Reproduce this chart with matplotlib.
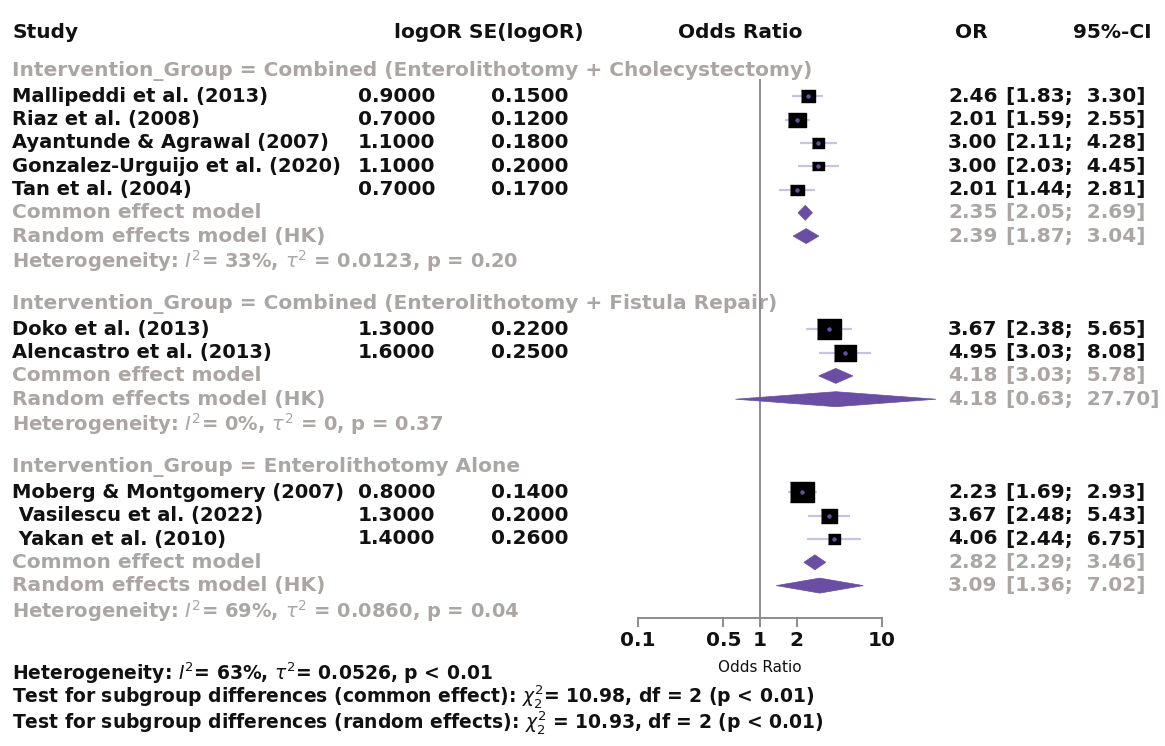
import numpy as np
import matplotlib
matplotlib.use('Agg')
import matplotlib.pyplot as plt
from matplotlib.patches import Polygon

# ---- data ----
group_labels = ['Intervention_Group = Combined (Enterolithotomy + Cholecystectomy)',
                'Intervention_Group = Combined (Enterolithotomy + Fistula Repair)',
                'Intervention_Group = Enterolithotomy Alone']

studies = [['Mallipeddi et al. (2013)', 'Riaz et al. (2008)', 'Ayantunde & Agrawal (2007)',
            'Gonzalez-Urguijo et al. (2020)', 'Tan et al. (2004)'],
           ['Doko et al. (2013)', 'Alencastro et al. (2013)'],
           ['Moberg & Montgomery (2007)', ' Vasilescu et al. (2022)', ' Yakan et al. (2010)']]
log_or = [[0.90, 0.70, 1.10, 1.10, 0.70],
          [1.30, 1.60],
          [0.80, 1.30, 1.40]]
se_log_or = [[0.15, 0.12, 0.18, 0.20, 0.17],
             [0.22, 0.25],
             [0.14, 0.20, 0.26]]
odds = [[2.46, 2.01, 3.00, 3.00, 2.01],
        [3.67, 4.95],
        [2.23, 3.67, 4.06]]
ci_low = [[1.83, 1.59, 2.11, 2.03, 1.44],
          [2.38, 3.03],
          [1.69, 2.48, 2.44]]
ci_high = [[3.30, 2.55, 4.28, 4.45, 2.81],
           [5.65, 8.08],
           [2.93, 5.43, 6.75]]

# pooled: (estimate, low, high)
common = [(2.35, 2.05, 2.69), (4.18, 3.03, 5.78), (2.82, 2.29, 3.46)]
random_hk = [(2.39, 1.87, 3.04), (4.18, 0.63, 27.70), (3.09, 1.36, 7.02)]
het_text = [r'Heterogeneity: $I^2$= 33%, $\tau^2$ = 0.0123, p = 0.20',
            r'Heterogeneity: $I^2$= 0%, $\tau^2$ = 0, p = 0.37',
            r'Heterogeneity: $I^2$= 69%, $\tau^2$ = 0.0860, p = 0.04']

footer = [r'Heterogeneity: $I^2$= 63%, $\tau^2$= 0.0526, p < 0.01',
          r'Test for subgroup differences (common effect): $\chi^2_2$= 10.98, df = 2 (p < 0.01)',
          r'Test for subgroup differences (random effects): $\chi^2_2$ = 10.93, df = 2 (p < 0.01)']

xticks = [0.1, 0.5, 1, 2, 10]
xtick_labels = ['0.1', '0.5', '1', '2', '10']

# ---- style ----
plt.rcParams['font.family'] = ['DejaVu Sans']
plt.rcParams['mathtext.fontset'] = 'dejavusans'

BLACK = '#111111'
GREY = '#aba6a4'
PURPLE = '#6a4ea3'
LAVENDER = '#cbc0ea'
FS = 14.5

W, H = 1165, 746
fig = plt.figure(figsize=(W / 100, H / 100), dpi=100)
ax = fig.add_axes([0, 0, 1, 1])
ax.set_xlim(0, W)
ax.set_ylim(H, 0)
ax.axis('off')

# forest panel: x in log OR, y in pixels
fx0, fx1 = 600, 960
px_per_dec = 122.0
x_one = 760
fa = fig.add_axes([fx0 / W, 0, (fx1 - fx0) / W, 1])
fa.set_xscale('log')
fa.set_xlim(10 ** ((fx0 - x_one) / px_per_dec), 10 ** ((fx1 - x_one) / px_per_dec))
fa.set_ylim(H, 0)
fa.axis('off')
fa.patch.set_alpha(0)


def txt(x, y, s, color=BLACK, size=FS, **kw):
    ax.text(x, y, s, fontsize=size, color=color, va='center', fontweight='bold', **kw)


def ci_str(lo, hi):
    return '[%.2f;  %.2f]' % (lo, hi)


# header
hy = 33
txt(12, hy, 'Study')
txt(489, hy, 'logOR SE(logOR)', ha='center')
txt(740, hy, 'Odds Ratio', ha='center')
txt(971, hy, 'OR', ha='center')
txt(1152, hy, '95%-CI', ha='right')

y0, pitch = 73, 23.3
half_h = 7.5
x_or, x_ci = 948, 1006


def row_y(i):
    return y0 + pitch * i


def diamond(est, lo, hi, y, color):
    pts = [(lo, y), (est, y - half_h), (hi, y), (est, y + half_h)]
    fa.add_patch(Polygon(pts, closed=True, facecolor=color, edgecolor=color, lw=0.5, zorder=4))


row = 0
for g in range(len(group_labels)):
    txt(12, row_y(row) - 2, group_labels[g], color=GREY)
    row += 1
    w = 1.0 / np.array(se_log_or[g]) ** 2
    rel = w / w.sum()
    for k in range(len(studies[g])):
        y = row_y(row)
        txt(12, y, studies[g][k], size=FS - 0.5)
        txt(358, y, '%.4f' % log_or[g][k])
        txt(491, y, '%.4f' % se_log_or[g][k])
        txt(x_or, y, '%.2f' % odds[g][k])
        txt(x_ci, y, ci_str(ci_low[g][k], ci_high[g][k]))
        fa.plot([ci_low[g][k], ci_high[g][k]], [y, y], color=LAVENDER, lw=1.6, zorder=2,
                solid_capstyle='butt')
        side = 32 * np.sqrt(rel[k]) * 0.72
        fa.plot([odds[g][k]], [y], marker=[(-1, -0.8), (1, -0.8), (1, 0.8), (-1, 0.8)],
                markersize=side, color='black', mec='black', zorder=3, ls='none')
        fa.plot([odds[g][k]], [y], marker='o', markersize=2.2, color=PURPLE, mec=PURPLE, zorder=4, ls='none')
        row += 1
    for name, (est, lo, hi) in [('Common effect model', common[g]),
                                ('Random effects model (HK)', random_hk[g])]:
        y = row_y(row)
        txt(12, y, name, color=GREY)
        txt(x_or, y, '%.2f' % est, color=GREY)
        txt(x_ci, y, ci_str(lo, hi), color=GREY)
        diamond(est, lo, hi, y, PURPLE)
        row += 1
    txt(12, row_y(row) + 2, het_text[g], color=GREY, size=FS - 0.5)
    row += 2

# axis
axis_y = 618
fa.plot([1, 1], [80, axis_y], color='#8c8c8c', lw=1.4, zorder=1)
fa.plot([xticks[0], xticks[-1]], [axis_y, axis_y], color='#8c8c8c', lw=1.4, zorder=1)
for t, lab in zip(xticks, xtick_labels):
    fa.plot([t, t], [axis_y, axis_y + 8], color='#8c8c8c', lw=1.4, zorder=1)
    fa.text(t, 641, lab, fontsize=FS, fontweight='bold', color=BLACK, ha='center', va='center')
fa.text(1, 667, 'Odds Ratio', fontsize=11, color=BLACK, ha='center', va='center')

for y, line in zip([673, 697, 723], footer):
    txt(12, y, line, size=FS - 1)

fig.savefig('out.png', dpi=100)
